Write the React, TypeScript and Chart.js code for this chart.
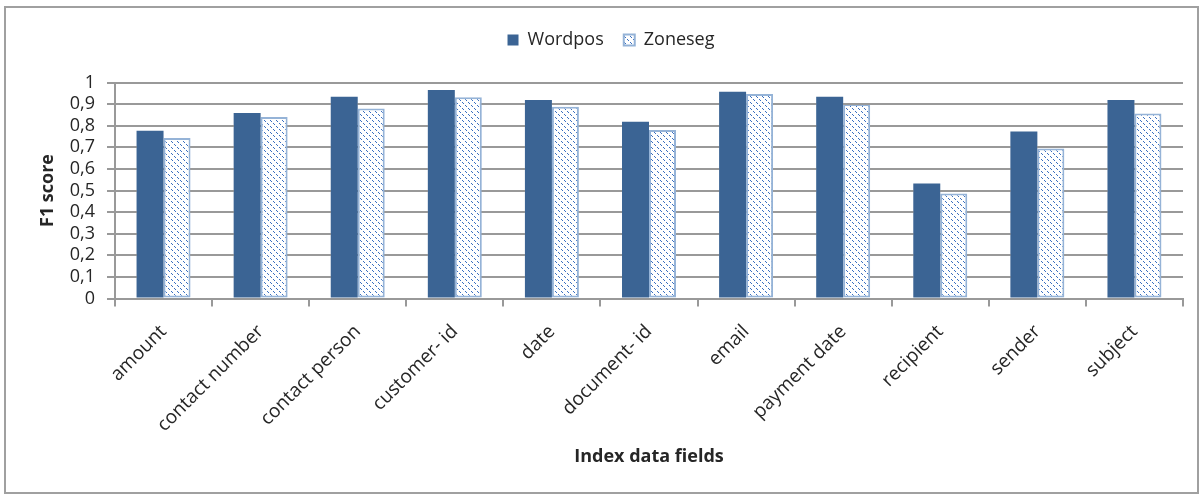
import React, { useEffect, useRef } from "react";
import { Chart, registerables } from "chart.js";

Chart.register(...registerables);

const categories = [
  "amount",
  "contact number",
  "contact person",
  "customer- id",
  "date",
  "document- id",
  "email",
  "payment date",
  "recipient",
  "sender",
  "subject",
];
const seriesNames = ["Wordpos", "Zoneseg"];
const wordpos = [0.777, 0.859, 0.934, 0.965, 0.919, 0.818, 0.957, 0.934, 0.532, 0.773, 0.919];
const zoneseg = [0.743, 0.84, 0.88, 0.932, 0.888, 0.78, 0.947, 0.9, 0.486, 0.695, 0.857];
const yTickLabels = ["0", "0,1", "0,2", "0,3", "0,4", "0,5", "0,6", "0,7", "0,8", "0,9", "1"];
const xTitle = "Index data fields";
const yTitle = "F1 score";

const FONT = "'Open Sans', 'Noto Sans', sans-serif";
const GRID = "#999999";
const TEXT = "#262626";

function makePattern(): CanvasPattern | string {
  const c = document.createElement("canvas");
  c.width = 6;
  c.height = 6;
  const g = c.getContext("2d");
  if (!g) return "#ffffff";
  g.fillStyle = "#ffffff";
  g.fillRect(0, 0, 6, 6);
  g.fillStyle = "#3a6fc0";
  [0, 1, 3, 4].forEach((i) => g.fillRect(i, i, 1, 1));
  const p = g.createPattern(c, "repeat");
  return p || "#ffffff";
}

export default function App() {
  const ref = useRef<HTMLCanvasElement | null>(null);

  useEffect(() => {
    document.body.style.margin = "0";
    const canvas = ref.current;
    if (!canvas) return;
    const pattern = makePattern();

    const legendHeight = {
      id: "legendHeight",
      beforeInit(chart: any) {
        const legend = chart.legend;
        if (!legend) return;
        const orig = legend.fit;
        legend.fit = function () {
          orig.call(this);
          this.height = 71.5;
        };
      },
    };

    // horizontal gridlines from the y scale's ticks, left out where a bar covers them
    const yGridLines = {
      id: "yGridLines",
      afterDraw(chart: any) {
        const ctx = chart.ctx as CanvasRenderingContext2D;
        const area = chart.chartArea;
        const y = chart.scales.y;
        const spans: number[][] = [];
        chart.data.datasets.forEach((_d: any, di: number) => {
          const meta = chart.getDatasetMeta(di);
          meta.data.forEach((el: any) => {
            const w = el.width;
            spans.push([el.x - w / 2, el.x + w / 2, Math.min(el.y, el.base)]);
          });
        });
        ctx.save();
        ctx.globalAlpha = 1;
        ctx.globalCompositeOperation = "source-over";
        ctx.fillStyle = GRID;
        for (let i = 1; i < y.ticks.length; i++) {
          const py = Math.round(y.getPixelForTick(i));
          const covered = spans
            .filter((s) => s[2] <= py)
            .map((s) => [s[0], s[1]])
            .sort((a, b) => a[0] - b[0]);
          let cx = area.left;
          for (const [a, b] of covered) {
            if (a > cx) ctx.fillRect(cx, py - 1, a - cx, 2);
            cx = Math.max(cx, b);
          }
          if (area.right > cx) ctx.fillRect(cx, py - 1, area.right - cx, 2);
        }
        ctx.restore();
      },
    };

    const chart = new Chart(canvas, {
      type: "bar",
      data: {
        labels: categories,
        datasets: [
          {
            label: seriesNames[0],
            data: wordpos,
            backgroundColor: "#3b6494",
            borderWidth: 0,
            categoryPercentage: 0.556,
            barPercentage: 1,
          },
          {
            label: seriesNames[1],
            data: zoneseg,
            backgroundColor: pattern as any,
            borderColor: "#95b3d7",
            borderWidth: 2,
            borderSkipped: false,
            categoryPercentage: 0.556,
            barPercentage: 1,
          },
        ],
      },
      options: {
        responsive: false,
        animation: false,
        layout: { padding: { left: 19, right: 0, top: 11, bottom: 0 } },
        font: { family: FONT },
        plugins: {
          tooltip: { enabled: false },
          legend: {
            position: "top",
            labels: {
              boxWidth: 11,
              boxHeight: 11,
              padding: 20,
              color: TEXT,
              font: { family: FONT, size: 18 },
            },
          },
        },
        scales: {
          x: {
            offset: true,
            grid: {
              display: true,
              offset: true,
              drawOnChartArea: false,
              drawTicks: true,
              tickLength: 8,
              color: GRID,
              lineWidth: 2,
            },
            border: { display: true, color: GRID, width: 2 },
            ticks: {
              minRotation: 45,
              maxRotation: 45,
              autoSkip: false,
              padding: 14,
              color: TEXT,
              font: { family: FONT, size: 19 },
            },
            title: {
              display: true,
              text: xTitle,
              color: TEXT,
              font: { family: FONT, size: 18, weight: "bold" },
              padding: { top: 0, bottom: 28 },
            },
            afterFit(scale: any) {
              scale.height = 197.5;
              scale.paddingRight = 20;
              scale.paddingLeft = 0;
            },
          },
          y: {
            min: 0,
            max: 1,
            ticks: {
              stepSize: 0.1,
              autoSkip: false,
              padding: 12,
              color: TEXT,
              font: { family: FONT, size: 18 },
              callback: (_v: any, i: number) => yTickLabels[i],
            },
            grid: {
              display: true,
              drawOnChartArea: true,
              color: GRID,
              lineWidth: 2,
              tickLength: 8,
              drawTicks: true,
            },
            border: { display: true, color: GRID, width: 2 },
            title: {
              display: true,
              text: yTitle,
              color: TEXT,
              font: { family: FONT, size: 18, weight: "bold" },
              padding: { top: 18, bottom: 0 },
            },
            afterFit(scale: any) {
              scale.width = 96;
            },
          },
        },
      } as any,
      plugins: [legendHeight as any, yGridLines as any],
    });

    return () => chart.destroy();
  }, []);

  return (
    <div style={{ position: "relative", width: 1203, height: 496, background: "#fff" }}>
      <div
        style={{
          position: "absolute",
          left: 4,
          top: 6,
          width: 1195,
          height: 488,
          border: "2px solid #a0a0a0",
          boxSizing: "border-box",
        }}
      />
      <canvas
        ref={ref}
        width={1203}
        height={496}
        style={{ position: "absolute", left: 0, top: 0, width: 1203, height: 496 }}
      />
    </div>
  );
}
